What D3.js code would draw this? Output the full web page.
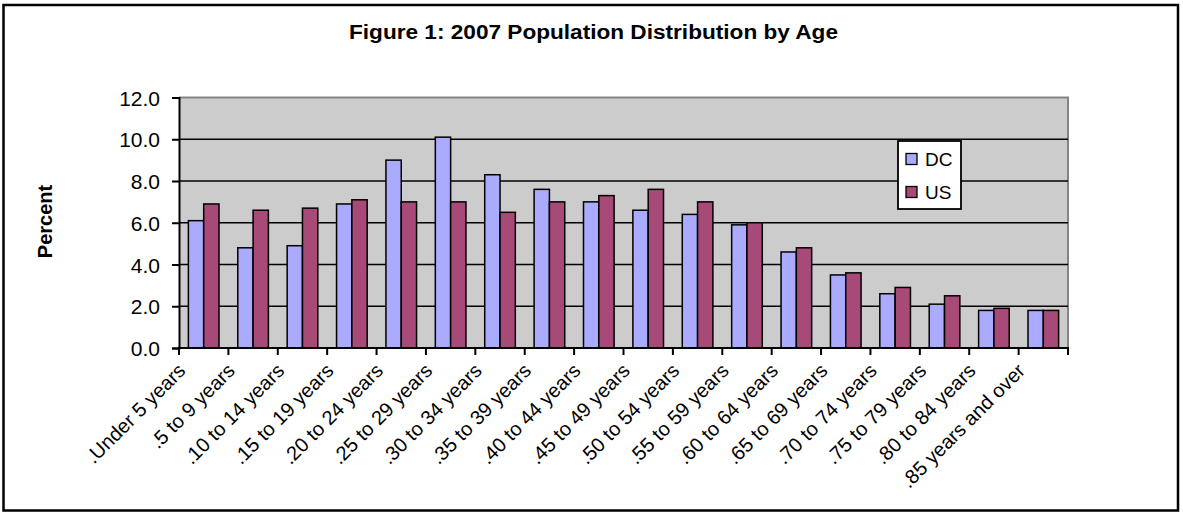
<!DOCTYPE html>
<html>
<head>
<meta charset="utf-8">
<script src="https://cdn.jsdelivr.net/npm/d3@7"></script>
<style>
  html, body { margin: 0; padding: 0; background: #fff; }
  svg { display: block; font-family: "Liberation Sans", Arial, sans-serif; }
</style>
</head>
<body>
<svg id="chart" width="1183" height="513"></svg>
<script>
// Age groups and the share of population (percent) in each, 2007
const categories = [
  ".Under 5 years", ".5 to 9 years", ".10 to 14 years", ".15 to 19 years",
  ".20 to 24 years", ".25 to 29 years", ".30 to 34 years", ".35 to 39 years",
  ".40 to 44 years", ".45 to 49 years", ".50 to 54 years", ".55 to 59 years",
  ".60 to 64 years", ".65 to 69 years", ".70 to 74 years", ".75 to 79 years",
  ".80 to 84 years", ".85 years and over"
];
const seriesNames = ["DC", "US"];
const dcValues = [6.1, 4.8, 4.9, 6.9, 9.0, 10.1, 8.3, 7.6, 7.0, 6.6, 6.4, 5.9, 4.6, 3.5, 2.6, 2.1, 1.8, 1.8];
const usValues = [6.9, 6.6, 6.7, 7.1, 7.0, 7.0, 6.5, 7.0, 7.3, 7.6, 7.0, 6.0, 4.8, 3.6, 2.9, 2.5, 1.9, 1.8];
const yTicks = [0, 2, 4, 6, 8, 10, 12];
const seriesColors = ["#AAAAFF", "#A84A78"];

const svg = d3.select("#chart");
const font = "'Liberation Sans', Arial, sans-serif";

// Outer chart frame
svg.append("rect")
  .attr("x", 3.5).attr("y", 5).attr("width", 1174.5).attr("height", 505.5)
  .attr("fill", "#fff").attr("stroke", "#000").attr("stroke-width", 2.5);

// Plot area
const plot = { left: 179, right: 1068, top: 97.5, bottom: 348 };

const x0 = d3.scaleBand().domain(categories).range([plot.left, plot.right]).padding(0);
const step = x0.bandwidth();
const groupPad = step * 0.19;
const x1 = d3.scaleBand().domain(seriesNames).range([groupPad, step - groupPad]).padding(0);
const y = d3.scaleLinear().domain([0, 12]).range([plot.bottom, plot.top]);

svg.append("rect")
  .attr("x", plot.left).attr("y", plot.top)
  .attr("width", plot.right - plot.left).attr("height", plot.bottom - plot.top)
  .attr("fill", "#CCCCCC");

// Top / right border of the plot area
svg.append("path")
  .attr("d", `M${plot.left},${plot.top}H${plot.right}V${plot.bottom}`)
  .attr("fill", "none").attr("stroke", "#858585").attr("stroke-width", 2);

// Horizontal gridlines
svg.append("g").selectAll("line")
  .data(yTicks.filter(t => t > 0 && t < 12))
  .join("line")
  .attr("x1", plot.left).attr("x2", plot.right)
  .attr("y1", d => y(d)).attr("y2", d => y(d))
  .attr("stroke", "#000").attr("stroke-width", 1.6);

// Bars
const data = categories.map((c, i) => ({ cat: c, values: [dcValues[i], usValues[i]] }));
const groups = svg.append("g").selectAll("g")
  .data(data).join("g")
  .attr("transform", d => `translate(${x0(d.cat)},0)`);
groups.selectAll("rect")
  .data(d => d.values.map((v, k) => ({ name: seriesNames[k], value: v, k })))
  .join("rect")
  .attr("x", d => x1(d.name))
  .attr("width", x1.bandwidth())
  .attr("y", d => y(d.value))
  .attr("height", d => y(0) - y(d.value))
  .attr("fill", d => seriesColors[d.k])
  .attr("stroke", "#000").attr("stroke-width", 1.5);

// Y axis
const yAxis = d3.axisLeft(y).tickValues(yTicks).tickSize(7).tickPadding(12)
  .tickFormat(d3.format(".1f"));
const gy = svg.append("g").attr("transform", `translate(${plot.left},0)`).call(yAxis);
gy.select(".domain").attr("stroke", "#000").attr("stroke-width", 2);
gy.selectAll(".tick line").attr("stroke", "#000").attr("stroke-width", 2);
gy.selectAll(".tick text")
  .attr("font-family", font).attr("font-size", 21).attr("fill", "#000")
  .attr("dy", "0.36em");

// X axis: ticks at the category boundaries
const boundaries = categories.map(c => x0(c)).concat([plot.right]);
svg.append("line")
  .attr("x1", plot.left - 1).attr("x2", plot.right + 1)
  .attr("y1", plot.bottom).attr("y2", plot.bottom)
  .attr("stroke", "#000").attr("stroke-width", 2);
svg.append("g").selectAll("line")
  .data(boundaries).join("line")
  .attr("x1", d => d).attr("x2", d => d)
  .attr("y1", plot.bottom).attr("y2", plot.bottom + 7)
  .attr("stroke", "#000").attr("stroke-width", 2);

svg.append("g").selectAll("text")
  .data(categories).join("text")
  .attr("transform", d => `translate(${x0(d) + step / 2 - 17},${plot.bottom + 24}) rotate(-45)`)
  .attr("text-anchor", "end")
  .attr("font-family", font).attr("font-size", 20).attr("fill", "#000")
  .text(d => d);

// Title
svg.append("text")
  .attr("x", 593.5).attr("y", 39)
  .attr("text-anchor", "middle")
  .attr("font-family", font).attr("font-size", 20).attr("font-weight", "bold")
  .attr("textLength", 489).attr("lengthAdjust", "spacingAndGlyphs")
  .text("Figure 1: 2007 Population Distribution by Age");

// Y axis title
svg.append("text")
  .attr("transform", "translate(51.5,221.5) rotate(-90)")
  .attr("text-anchor", "middle")
  .attr("font-family", font).attr("font-size", 20).attr("font-weight", "bold")
  .text("Percent");

// Legend
const legend = svg.append("g");
legend.append("rect")
  .attr("x", 898).attr("y", 141).attr("width", 63).attr("height", 68)
  .attr("fill", "#fff").attr("stroke", "#000").attr("stroke-width", 1.8);
const items = legend.selectAll("g.item")
  .data(seriesNames).join("g").attr("class", "item")
  .attr("transform", (d, i) => `translate(906,${159 + i * 33})`);
items.append("rect")
  .attr("x", 0).attr("y", -5.5).attr("width", 11).attr("height", 11)
  .attr("fill", (d, i) => seriesColors[i]).attr("stroke", "#000").attr("stroke-width", 1.3);
items.append("text")
  .attr("x", 19).attr("y", 0).attr("dy", "0.36em")
  .attr("font-family", font).attr("font-size", 19).attr("fill", "#000")
  .text(d => d);
</script>
</body>
</html>
